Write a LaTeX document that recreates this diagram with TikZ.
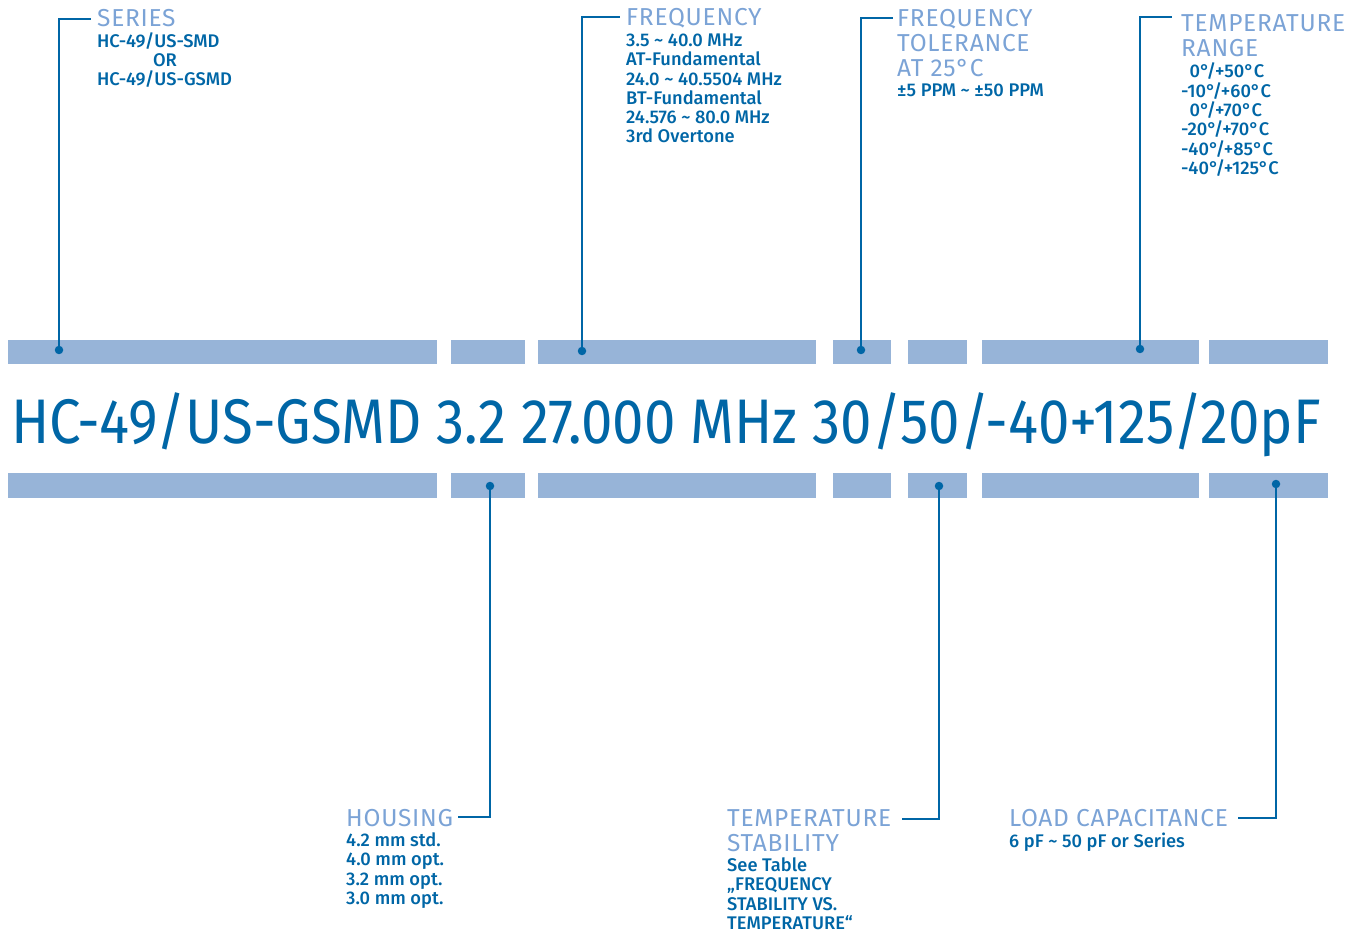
\documentclass[tikz,border=0pt]{standalone}
\usepackage{fontspec}
\setmainfont{Fira Sans}
\newfontfamily\medfont{Fira Sans Medium}
\newfontfamily\headfont[LetterSpace=3]{Fira Sans}
\definecolor{dkblue}{HTML}{0066A6}
\definecolor{ltblue}{HTML}{7BA3D6}
\definecolor{barblue}{HTML}{97B4D8}
\begin{document}
\begin{tikzpicture}[x=1pt,y=-1pt,
  bar/.style={fill=barblue, draw=none},
  lead/.style={draw=dkblue, line width=2.8pt},
  dot/.style={circle, fill=dkblue, inner sep=0pt, minimum size=8.5pt},
  head/.style={anchor=base west, inner sep=0pt, text=ltblue, font=\headfont\fontsize{24.5}{25}\selectfont, align=left},
  body/.style={anchor=base west, inner sep=0pt, text=dkblue, font=\medfont\fontsize{18.3}{19.3}\selectfont, align=left},
  mainpn/.style={anchor=base west, inner sep=0pt, text=dkblue, font=\fontsize{63}{70}\selectfont}]
\useasboundingbox (0,0) rectangle (1363,933);
% bars
\foreach \a/\b in {8/437,451/525,538/816,833/891,908/967,982/1199,1209/1328}{
  \fill[bar] (\a,340) rectangle (\b,364);
  \fill[bar] (\a,473) rectangle (\b,498);
}
% main part number
\node[mainpn] (pn) at (11,443) {\scalebox{0.895}[1]{HC-49/US-GSMD 3.2 27.000 MHz 30/50/-40+125/20pF}};
% dots
\node[dot] (dS) at (59,350) {};
\node[dot] (dF) at (582,351) {};
\node[dot] (dT) at (861,350) {};
\node[dot] (dR) at (1140,349) {};
\node[dot] (dH) at (490,486) {};
\node[dot] (dStab) at (939,486) {};
\node[dot] (dL) at (1276,484) {};
% leader ends
\coordinate (cS) at (91,19);
\coordinate (cF) at (620,17);
\coordinate (cT) at (893,18);
\coordinate (cR) at (1172,17);
\coordinate (cH) at (458,817);
\coordinate (cStab) at (902,819);
\coordinate (cL) at (1238,818);
\draw[lead] (dS.center) |- (cS);
\draw[lead] (dF.center) |- (cF);
\draw[lead] (dT.center) |- (cT);
\draw[lead] (dR.center) |- (cR);
\draw[lead] (dH.center) |- (cH);
\draw[lead] (dStab.center) |- (cStab);
\draw[lead] (dL.center) |- (cL);
% top texts (multi-line nodes are placed by the baseline of their last line)
\node[head] (hS) at (97,27) {SERIES};
\node[body] (bS) at (97,48) {HC-49/US-SMD};
\node[body, anchor=base] (bOr) at (165,67) {OR};
\node[body] (bS2) at (97,86) {HC-49/US-GSMD};
\node[head] (hF) at (626,25.5) {FREQUENCY};
\node[body] (bF) at (626,143) {3.5 \textasciitilde{} 40.0 MHz\\AT-Fundamental\\24.0 \textasciitilde{} 40.5504 MHz\\BT-Fundamental\\24.576 \textasciitilde{} 80.0 MHz\\3rd Overtone};
\node[head] (hT) at (897,76.5) {FREQUENCY\\TOLERANCE\\AT 25°C};
\node[body] (bT) at (897,97) {±5 PPM \textasciitilde{} ±50 PPM};
\node[head] (hR) at (1181,56.5) {TEMPERATURE\\RANGE};
\node[body] (bR) at (1181,174.5) {\hspace*{8.5pt}0°/+50°C\\-10°/+60°C\\\hspace*{8.5pt}0°/+70°C\\-20°/+70°C\\-40°/+85°C\\-40°/+125°C};
% bottom texts
\node[head] (hH) at (346,826) {HOUSING};
\node[body] (bH) at (346,904.4) {4.2 mm std.\\4.0 mm opt.\\3.2 mm opt.\\3.0 mm opt.};
\node[head] (hStab) at (727,851.5) {TEMPERATURE\\STABILITY};
\node[body] (bStab) at (727,929.4) {See Table\\„FREQUENCY\\STABILITY VS.\\TEMPERATURE“};
\node[head] (hL) at (1009,826.5) {LOAD CAPACITANCE};
\node[body] (bL) at (1009,847.5) {6 pF \textasciitilde{} 50 pF or Series};
\end{tikzpicture}
\end{document}
